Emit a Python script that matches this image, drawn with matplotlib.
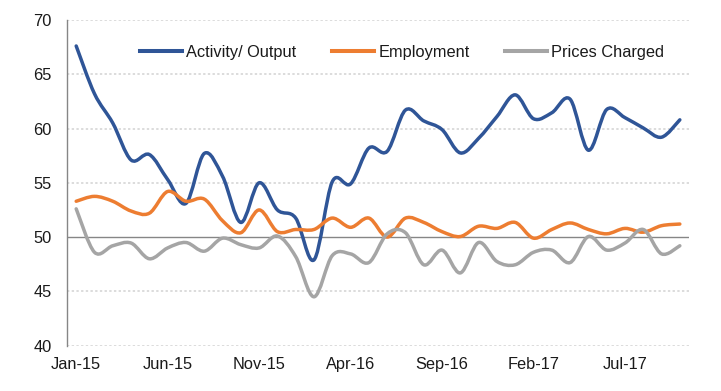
"""PMI-style survey chart: activity, employment and prices charged."""

import matplotlib

matplotlib.use("Agg")

import matplotlib.pyplot as plt
import pandas as pd
from matplotlib.lines import Line2D
from matplotlib.patches import PathPatch
from matplotlib.path import Path


BLUE = "#2F5597"
ORANGE = "#ED7D31"
GREY = "#A5A5A5"
AXIS_GREY = "#868686"
GRID_COLOR = "#D9D9D9"
TEXT_COLOR = "#1A1A1A"

months = pd.date_range("2015-01-01", periods=34, freq="MS").strftime("%b-%y").tolist()

activity = [
    67.6, 63.2, 60.5, 57.1, 57.6, 55.3, 53.1, 57.7, 55.6, 51.35,
    55.0, 52.5, 51.75, 47.9, 55.1, 54.9, 58.2, 57.9, 61.7, 60.7,
    59.9, 57.75, 59.1, 61.1, 63.1, 60.9, 61.45, 62.7, 58.0, 61.75,
    61.0, 60.05, 59.2, 60.8,
]

employment = [
    53.3, 53.75, 53.3, 52.4, 52.2, 54.2, 53.3, 53.5, 51.5, 50.4,
    52.5, 50.5, 50.7, 50.7, 51.75, 50.9, 51.75, 50.0, 51.75, 51.35,
    50.5, 50.05, 51.0, 50.8, 51.35, 49.9, 50.7, 51.3, 50.7, 50.3,
    50.8, 50.45, 51.05, 51.2,
]

prices_charged = [
    52.6, 48.6, 49.2, 49.45, 48.0, 49.0, 49.5, 48.7, 49.9, 49.3,
    49.0, 50.1, 48.2, 44.5, 48.3, 48.45, 47.65, 50.3, 50.4, 47.45,
    48.8, 46.7, 49.5, 47.75, 47.45, 48.6, 48.8, 47.65, 50.05, 48.8,
    49.45, 50.7, 48.45, 49.2,
]

series = [
    ("Activity/ Output", activity, BLUE),
    ("Employment", employment, ORANGE),
    ("Prices Charged", prices_charged, GREY),
]

tick_step = 5
line_width = 2.5
font_size = 11.8


def smooth_path(values):
    """Bezier path through the points, similar to a spreadsheet smoothed line."""

    points = list(enumerate(values))
    padded = [points[0]] + points + [points[-1]]
    vertices = [points[0]]
    codes = [Path.MOVETO]

    for i in range(1, len(padded) - 2):
        p_prev, p0, p1, p_next = padded[i - 1], padded[i], padded[i + 1], padded[i + 2]
        c1 = (p0[0] + (p1[0] - p_prev[0]) / 6, p0[1] + (p1[1] - p_prev[1]) / 6)
        c2 = (p1[0] - (p_next[0] - p0[0]) / 6, p1[1] - (p_next[1] - p0[1]) / 6)
        vertices += [c1, c2, p1]
        codes += [Path.CURVE4] * 3

    return Path(vertices, codes)


plt.rcParams["font.family"] = ["Liberation Sans", "DejaVu Sans"]

figure = plt.figure(figsize=(7.21, 3.91), dpi=100)
figure.patch.set_facecolor("white")
axis = figure.add_axes([0.093, 0.116, 0.8626, 0.833])

axis.set_xlim(-0.5, len(months) - 0.5)
axis.set_ylim(40, 70)
axis.set_yticks(range(40, 71, 5))

for level in range(40, 71, 5):
    if level == 50:
        continue
    axis.axhline(
        level,
        color=GRID_COLOR,
        linewidth=1.3,
        linestyle=(0, (1.3, 1.3)),
        zorder=1,
    )

axis.axhline(50, color=AXIS_GREY, linewidth=1.0, zorder=2)

for name, values, color in series:
    axis.add_patch(
        PathPatch(
            smooth_path(values),
            facecolor="none",
            edgecolor=color,
            linewidth=line_width,
            capstyle="round",
            joinstyle="round",
            zorder=3,
        )
    )

for side in ("top", "right", "bottom"):
    axis.spines[side].set_visible(False)

axis.spines["left"].set_color(AXIS_GREY)
axis.spines["left"].set_linewidth(1.0)

tick_positions = list(range(0, len(months), tick_step))
axis.set_xticks(tick_positions)
axis.set_xticklabels([months[i] for i in tick_positions])

axis.tick_params(axis="x", length=0, pad=8, labelsize=font_size, colors=TEXT_COLOR)
axis.tick_params(axis="y", length=0, pad=11, labelsize=font_size, colors=TEXT_COLOR)

handles = [
    Line2D([0], [0], color=color, linewidth=line_width + 0.4)
    for _, _, color in series
]

axis.legend(
    handles,
    [name for name, _, _ in series],
    loc="center",
    bbox_to_anchor=(0.539, 0.90),
    ncol=3,
    frameon=False,
    fontsize=font_size,
    handlelength=2.55,
    handletextpad=0.25,
    columnspacing=2.2,
    labelcolor=TEXT_COLOR,
)

figure.savefig("out.png", dpi=100, facecolor="white")
plt.close(figure)
